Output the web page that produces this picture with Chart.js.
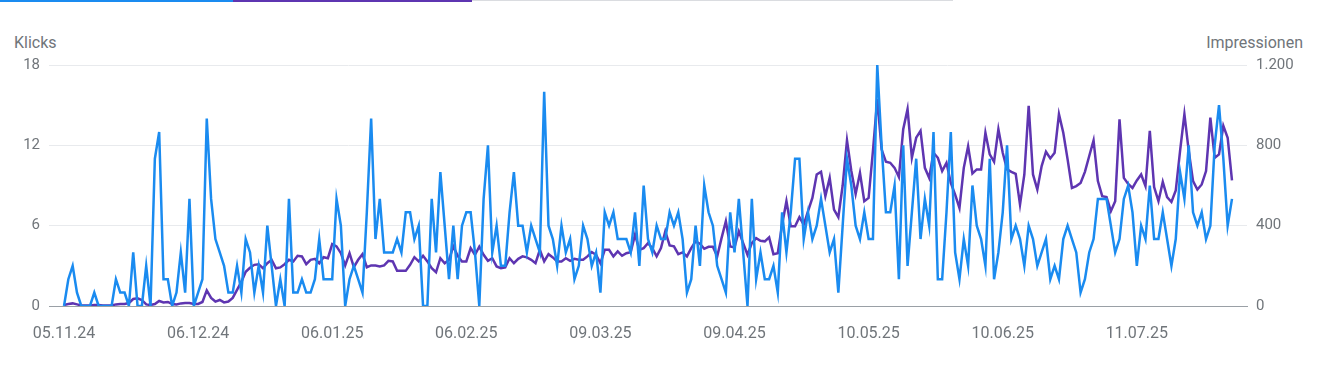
<!DOCTYPE html>
<html lang="de">
<head>
<meta charset="utf-8">
<title>Klicks und Impressionen</title>
<script src="https://cdn.jsdelivr.net/npm/chart.js@4.4.1/dist/chart.umd.min.js"></script>
<style>
    html, body { margin: 0; padding: 0; background: #fff; }
    #wrap { position: relative; width: 1321px; height: 374px; font-family: Roboto, "Noto Sans", sans-serif; }
    .tab-bar { position: absolute; top: 0; height: 2px; }
    .axis-title { position: absolute; top: 33px; font-size: 16px; line-height: 20px; color: #70757a; }
    #title-left { left: 14px; }
    #title-right { right: 18px; }
    canvas { position: absolute; left: 0; top: 0; }
</style>
</head>
<body>
<div id="wrap">
    <div class="tab-bar" style="left:0;width:233px;background:#1a8bf0"></div>
    <div class="tab-bar" style="left:233px;width:239px;background:#5e35b1"></div>
    <div class="tab-bar" style="left:472px;width:481px;height:1px;background:#dadce0"></div>
    <span class="axis-title" id="title-left">Klicks</span>
    <span class="axis-title" id="title-right">Impressionen</span>
    <canvas id="chart" width="1321" height="374"></canvas>
</div>
<script>
// one value per day, 05.11.24 - 02.08.25
const xTickLabels = ['05.11.24', '06.12.24', '06.01.25', '06.02.25', '09.03.25',
    '09.04.25', '10.05.25', '10.06.25', '11.07.25'];

const clicks = [
    0, 2, 3, 1, 0, 0, 0, 1, 0, 0,
    0, 0, 2, 1, 1, 0, 4, 0, 0, 3,
    0, 11, 13, 2, 2, 0, 1, 4, 1, 8,
    0, 1, 2, 14, 8, 5, 4, 3, 1, 1,
    3, 1, 5, 4, 1, 3, 1, 6, 3, 0,
    2, 0, 8, 1, 1, 2, 1, 1, 2, 5,
    2, 2, 2, 8, 6, 0, 2, 3, 2, 1,
    7, 14, 5, 8, 4, 4, 4, 5, 4, 7,
    7, 5, 6, 0, 0, 8, 4, 10, 6, 2,
    6, 2, 6, 7, 7, 4, 0, 8, 12, 4,
    6, 3, 3, 7, 10, 6, 6, 4, 6, 5,
    4, 16, 6, 5, 3, 6, 4, 5, 2, 3,
    6, 5, 3, 4, 1, 7, 6, 7, 5, 5,
    5, 4, 7, 3, 9, 5, 4, 6, 5, 5,
    7, 6, 7, 5, 1, 2, 6, 3, 9, 7,
    6, 3, 2, 1, 7, 4, 8, 4, 0, 8,
    2, 4, 2, 2, 3, 1, 7, 4, 7, 11,
    11, 5, 7, 5, 6, 8, 6, 4, 5, 1,
    6, 11, 9, 6, 5, 7, 5, 5, 18, 12,
    7, 7, 9, 2, 12, 3, 7, 11, 5, 8,
    6, 13, 2, 2, 7, 13, 4, 2, 5, 3,
    9, 6, 5, 3, 11, 2, 4, 7, 12, 5,
    6, 5, 3, 6, 5, 3, 4, 5, 2, 3,
    2, 5, 6, 5, 4, 1, 2, 4, 5, 8,
    8, 8, 6, 4, 5, 8, 9, 7, 3, 6,
    5, 9, 5, 5, 7, 5, 3, 5, 10, 8,
    12, 7, 6, 7, 5, 6, 12, 15, 11, 6,
    8
];

const impressions = [
    5, 10, 13, 8, 3, 3, 3, 5, 5, 3,
    3, 3, 8, 10, 10, 15, 35, 38, 30, 8,
    5, 10, 25, 18, 20, 10, 8, 13, 15, 15,
    10, 10, 20, 78, 40, 22, 30, 18, 22, 40,
    80, 120, 170, 190, 205, 208, 188, 213, 230, 188,
    192, 208, 230, 222, 250, 247, 208, 230, 235, 213,
    243, 238, 308, 297, 263, 202, 263, 193, 230, 258,
    193, 202, 202, 197, 202, 225, 222, 175, 175, 175,
    205, 243, 222, 250, 222, 188, 168, 238, 213, 230,
    297, 250, 222, 222, 288, 255, 295, 255, 225, 238,
    197, 188, 192, 238, 213, 235, 247, 242, 230, 213,
    280, 222, 258, 242, 222, 222, 238, 225, 235, 230,
    230, 247, 268, 255, 213, 280, 280, 247, 272, 250,
    263, 268, 355, 280, 288, 313, 288, 247, 288, 372,
    302, 297, 258, 267, 247, 288, 322, 310, 285, 295,
    295, 247, 338, 422, 297, 292, 372, 313, 255, 313,
    338, 325, 322, 342, 258, 263, 405, 522, 397, 397,
    442, 405, 472, 538, 655, 668, 547, 638, 480, 442,
    600, 825, 672, 558, 663, 522, 538, 772, 1030, 780,
    718, 713, 688, 642, 880, 980, 738, 838, 872, 688,
    638, 763, 738, 672, 713, 613, 555, 488, 688, 795,
    660, 680, 680, 863, 755, 718, 880, 763, 680, 668,
    658, 505, 655, 997, 655, 580, 697, 768, 735, 763,
    955, 863, 730, 588, 597, 613, 668, 747, 825, 622,
    547, 542, 472, 522, 930, 638, 608, 588, 625, 655,
    597, 872, 592, 522, 618, 542, 518, 575, 772, 955,
    772, 622, 580, 605, 672, 938, 738, 755, 897, 838,
    625
];

const TICK_DAYS = 31;
const textColor = '#70757a';

function toPoints(values) {
    return values.map((v, i) => ({ x: i, y: v }));
}

function formatDe(value) {
    return String(value).replace(/\B(?=(\d{3})+(?!\d))/g, '.');
}

const ctx = document.getElementById('chart').getContext('2d');

const chart = new Chart(ctx, {
    type: 'line',
    data: {
        datasets: [{
            label: 'Klicks',
            data: toPoints(clicks),
            yAxisID: 'yClicks',
            borderColor: '#1a8bf0',
            borderWidth: 2.5,
            pointRadius: 0,
            tension: 0
        }, {
            label: 'Impressionen',
            data: toPoints(impressions),
            yAxisID: 'yImpr',
            borderColor: '#5e35b1',
            borderWidth: 2.5,
            pointRadius: 0,
            tension: 0
        }]
    },
    options: {
        responsive: false,
        animation: false,
        layout: { padding: { top: 65, bottom: 0, left: 0, right: 0 } },
        plugins: {
            legend: { display: false },
            tooltip: { enabled: false }
        },
        scales: {
            x: {
                type: 'linear',
                min: -3.47,
                max: clicks.length - 1 + 3.47,
                grid: { display: false, drawTicks: false },
                border: { display: true, color: '#9aa0a6', width: 1 },
                ticks: {
                    stepSize: TICK_DAYS,
                    includeBounds: false,
                    autoSkip: false,
                    maxRotation: 0,
                    padding: 18,
                    color: textColor,
                    font: { family: 'Roboto', size: 16 },
                    callback: (value) => value % TICK_DAYS === 0 ? xTickLabels[value / TICK_DAYS] : ''
                },
                afterFit: (scale) => { scale.height = 68; }
            },
            yClicks: {
                position: 'left',
                min: 0,
                max: 18,
                grid: {
                    drawTicks: false,
                    color: (c) => c.tick && c.tick.value === 0 ? '#9aa0a6' : '#e8eaed'
                },
                border: { display: false },
                ticks: {
                    stepSize: 6,
                    padding: 9,
                    color: textColor,
                    font: { family: 'Roboto', size: 15 }
                },
                afterFit: (scale) => { scale.width = 49; }
            },
            yImpr: {
                position: 'right',
                min: 0,
                max: 1200,
                grid: { display: false, drawTicks: false },
                border: { display: false },
                ticks: {
                    stepSize: 400,
                    padding: 9,
                    color: textColor,
                    font: { family: 'Roboto', size: 15 },
                    callback: (value) => formatDe(value)
                },
                afterFit: (scale) => { scale.width = 74; }
            }
        }
    }
});
</script>
</body>
</html>
